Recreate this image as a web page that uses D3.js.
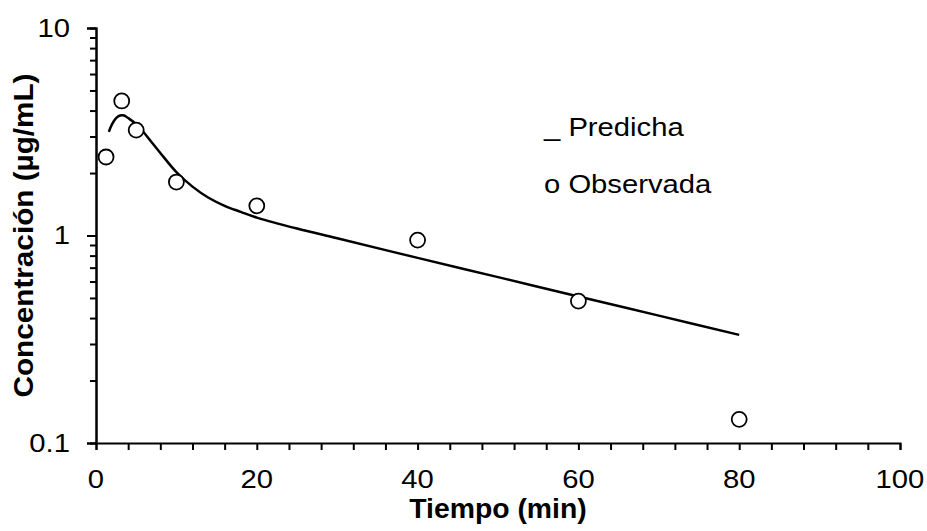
<!DOCTYPE html>
<html>
<head>
<meta charset="utf-8">
<script src="https://cdn.jsdelivr.net/npm/d3@7"></script>
<style>
  body { margin: 0; background: #fff; }
  text { font-family: "Liberation Sans", Arial, sans-serif; fill: #000; }
  .tick-label { font-size: 25px; }
  .axis-title { font-size: 27px; font-weight: bold; }
  .legend { font-size: 25px; }
</style>
</head>
<body>
<div id="chart"></div>
<script>
// Datos observados (circulos)
const tObs = [1.25, 3.2, 5, 10, 20, 40, 60, 80]
const cObs = [2.39, 4.45, 3.22, 1.81, 1.39, 0.95, 0.483, 0.13]

// Curva predicha (linea)
const tPred = [1.6, 2, 2.5, 3, 3.5, 4, 5, 6, 7, 8, 10, 12, 14, 16, 18, 20, 25, 30, 40, 50, 60, 70, 80]
const cPred = [3.16, 3.44, 3.68, 3.79, 3.79, 3.68, 3.44, 3.12, 2.79, 2.5, 2.02, 1.72, 1.52, 1.39, 1.3, 1.22, 1.08, 0.97, 0.78, 0.63, 0.508, 0.411, 0.332]

const xTickLabels = [0, 20, 40, 60, 80, 100]
const yTickLabels = [0.1, 1, 10]
const legendItems = ["_ Predicha", "o Observada"]

const width = 927
const height = 531
const margins = { top: 28, right: 27, bottom: 88, left: 96 }
// el texto del original aparece algo estirado en horizontal
const stretch = 1.17

const svg = d3.select("#chart")
  .append("svg")
  .attr("width", width)
  .attr("height", height)

const x = d3.scaleLinear().domain([0, 100]).range([margins.left, width - margins.right])
const y = d3.scaleLog().domain([0.1, 10]).range([height - margins.bottom, margins.top])

// Eje X
const xAxis = d3.axisBottom(x)
  .tickValues(d3.range(0, 101, 4))
  .tickSize(7)
  .tickFormat("")
const gx = svg.append("g")
  .attr("transform", `translate(0, ${y(0.1)})`)
  .call(xAxis)
gx.select(".domain").attr("stroke", "#000").attr("stroke-width", 2)
gx.selectAll(".tick line").attr("stroke", "#000").attr("stroke-width", 2)

gx.selectAll(".lbl")
  .data(xTickLabels)
  .enter()
  .append("text")
  .attr("class", "tick-label")
  .attr("transform", (d) => `translate(${x(d)}, 45) scale(${stretch}, 1)`)
  .attr("text-anchor", "middle")
  .text((d) => d)

// Eje Y
const yMinor = []
for (let dec = 0.1; dec < 10; dec *= 10) {
  for (let k = 2; k <= 9; k++) yMinor.push(+(dec * k).toFixed(3))
}
const gy = svg.append("g").attr("transform", `translate(${x(0)}, 0)`)
gy.call(d3.axisLeft(y).tickValues(yTickLabels).tickSize(9).tickFormat(""))
gy.append("g").call(d3.axisLeft(y).tickValues(yMinor).tickSize(6).tickFormat(""))
gy.selectAll(".domain").attr("stroke", "#000").attr("stroke-width", 2)
gy.selectAll(".tick line").attr("stroke", "#000").attr("stroke-width", 2)

gy.selectAll(".lbl")
  .data(yTickLabels)
  .enter()
  .append("text")
  .attr("class", "tick-label")
  .attr("transform", (d) => `translate(-26, ${y(d)}) scale(${stretch}, 1)`)
  .attr("dy", "0.35em")
  .attr("text-anchor", "end")
  .text((d) => d)

// Titulos de ejes
svg.append("text")
  .attr("class", "axis-title")
  .attr("transform", `translate(${(x(0) + x(100)) / 2}, 518) scale(1.05, 1)`)
  .attr("text-anchor", "middle")
  .text("Tiempo (min)")

svg.append("text")
  .attr("class", "axis-title")
  .attr("transform", `translate(33, ${(y(0.1) + y(10)) / 2}) rotate(-90) scale(1.1, 1)`)
  .attr("text-anchor", "middle")
  .text("Concentración (µg/mL)")

// Curva predicha
const predData = tPred.map((t, i) => ({ t, c: cPred[i] }))
const line = d3.line()
  .x((d) => x(d.t))
  .y((d) => y(d.c))
  .curve(d3.curveCatmullRom.alpha(0.5))
svg.append("path")
  .datum(predData)
  .attr("d", line)
  .attr("fill", "none")
  .attr("stroke", "#000")
  .attr("stroke-width", 2.5)

// Puntos observados
const obsData = tObs.map((t, i) => ({ t, c: cObs[i] }))
svg.selectAll(".obs")
  .data(obsData)
  .enter()
  .append("circle")
  .attr("cx", (d) => x(d.t))
  .attr("cy", (d) => y(d.c))
  .attr("r", 7.5)
  .attr("fill", "#fff")
  .attr("stroke", "#000")
  .attr("stroke-width", 1.8)

// Leyenda
svg.selectAll(".legend")
  .data(legendItems)
  .enter()
  .append("text")
  .attr("class", "legend")
  .attr("transform", (d, i) => `translate(544, ${136 + i * 57}) scale(${stretch}, 1)`)
  .text((d) => d)
</script>
</body>
</html>
